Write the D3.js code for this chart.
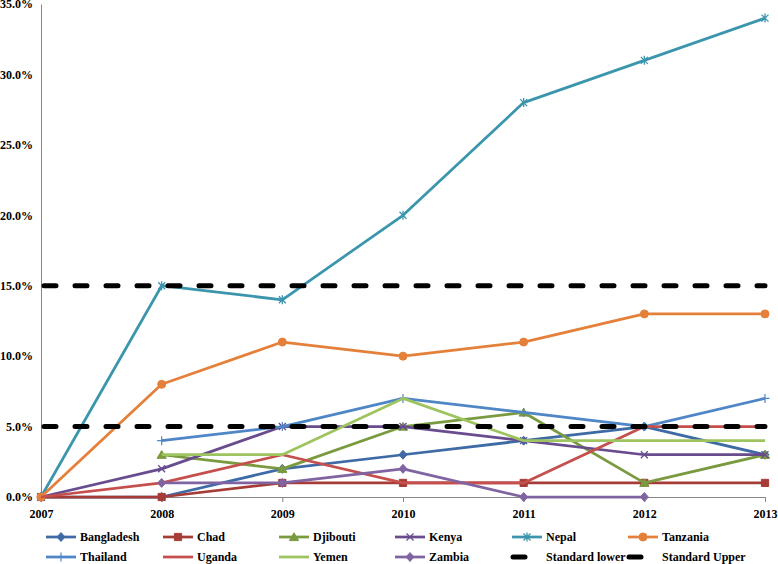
<!DOCTYPE html>
<html>
<head>
<meta charset="utf-8">
<script src="https://cdn.jsdelivr.net/npm/d3@7"></script>
<style>
  body { margin: 0; background: #fff; }
  text { font-family: "Liberation Serif", serif; font-weight: bold; font-size: 12px; fill: #000; }
</style>
</head>
<body>
<svg id="chart"></svg>
<script>
// data (percent)
const years = ["2007", "2008", "2009", "2010", "2011", "2012", "2013"];
const yTicks = [0, 5, 10, 15, 20, 25, 30, 35];

const bangladesh = [0, 0, 2, 3, 4, 5, 3];
const chad = [0, 0, 1, 1, 1, 1, 1];
const djibouti = [null, 3, 2, 5, 6, 1, 3];
const kenya = [0, 2, 5, 5, 4, 3, 3];
const nepal = [0, 15, 14, 20, 28, 31, 34];
const tanzania = [0, 8, 11, 10, 11, 13, 13];
const thailand = [null, 4, 5, 7, 6, 5, 7];
const uganda = [0, 1, 3, 1, 1, 5, 5];
const yemen = [null, 3, 3, 7, 4, 4, 4];
const zambia = [null, 1, 1, 2, 0, 0, null];
const standardLower = [5, 5, 5, 5, 5, 5, 5];
const standardUpper = [15, 15, 15, 15, 15, 15, 15];

const seriesNames = ["Bangladesh", "Chad", "Djibouti", "Kenya", "Nepal", "Tanzania",
  "Thailand", "Uganda", "Yemen", "Zambia", "Standard lower", "Standard Upper"];
const seriesValues = [bangladesh, chad, djibouti, kenya, nepal, tanzania,
  thailand, uganda, yemen, zambia, standardLower, standardUpper];

// look of each series
const colors = ["#3E6AA6", "#A63C38", "#7A9A3F", "#684C8D", "#3B96AD", "#E5803A",
  "#4F86C6", "#C44F4C", "#9DC45F", "#8064A2", "#000", "#000"];
const markers = {
  diamond: "M0,-4.5L4,0L0,4.5L-4,0Z",
  square: "M-3.6,-3.6h7.2v7.2h-7.2Z",
  triangle: "M0,-4.2L4.6,3.6H-4.6Z",
  x: "M-3.5,-3.5L3.5,3.5M-3.5,3.5L3.5,-3.5",
  star: "M-3.5,-3.5L3.5,3.5M-3.5,3.5L3.5,-3.5M0,-4.5V4.5",
  circle: "M-4,0a4,4 0 1,0 8,0a4,4 0 1,0 -8,0Z",
  plus: "M-4.5,0H4.5M0,-4.5V4.5"
};
const markerOf = ["diamond", "square", "triangle", "x", "star", "circle",
  "plus", null, null, "diamond", null, null];

const W = 778, H = 564;
const padLeft = 41, padRight = 765, padTop = 4, padBottom = 497;

const svg = d3.select("#chart").attr("width", W).attr("height", H);

const xScale = d3.scalePoint().domain(years).range([padLeft, padRight]).padding(0);
const yScale = d3.scaleLinear().domain([0, 35]).range([padBottom, padTop]);

// axes
const yAxis = d3.axisLeft(yScale).tickValues(yTicks)
  .tickFormat(d => d.toFixed(1) + "%").tickSize(0).tickPadding(8);
const gy = svg.append("g").attr("transform", "translate(" + padLeft + ",0)").call(yAxis);
gy.select(".domain").attr("stroke", "#868686").attr("stroke-width", 1);
gy.selectAll("text").style("font-family", "Liberation Serif").style("font-weight", "bold").style("font-size", "12px");

const xAxis = d3.axisBottom(xScale).tickSize(5).tickPadding(7);
const gx = svg.append("g").attr("transform", "translate(0," + padBottom + ")").call(xAxis);
gx.select(".domain").attr("stroke", "#868686").attr("stroke-width", 1);
gx.selectAll(".tick line").attr("stroke", "#868686");
gx.selectAll("text").style("font-family", "Liberation Serif").style("font-weight", "bold").style("font-size", "12px");

const line = d3.line()
  .defined(d => d.v !== null)
  .x(d => xScale(d.year))
  .y(d => yScale(d.v));

function styleLine(sel, i) {
  sel.attr("fill", "none").attr("stroke", colors[i]);
  if (i >= 10) {
    sel.attr("stroke-width", 5).attr("stroke-dasharray", "12,19").attr("stroke-linecap", "round");
  } else {
    sel.attr("stroke-width", 2.75).attr("stroke-linejoin", "round");
  }
}

function drawMarker(g, i, x, y) {
  const m = markerOf[i];
  if (!m) return;
  const open = (m === "x" || m === "star" || m === "plus");
  g.append("path")
    .attr("d", markers[m])
    .attr("transform", "translate(" + x + "," + y + ")")
    .attr("fill", open ? "none" : colors[i])
    .attr("stroke", colors[i])
    .attr("stroke-width", m === "plus" ? 1.2 : (open ? 1.3 : 1));
}

const plot = svg.append("g");
seriesValues.forEach((vals, i) => {
  const pts = years.map((y, k) => ({ year: y, v: vals[k] }));
  const g = plot.append("g");
  const p = g.append("path").attr("d", line(pts)).call(styleLine, i);
  if (i >= 10) p.attr("stroke-dashoffset", -3);
  pts.filter(d => d.v !== null).forEach(d => drawMarker(g, i, xScale(d.year), yScale(d.v)));
});

// legend
const legCols = [46, 163, 279, 395, 512, 628];
const legRows = [537, 557];
seriesNames.forEach((name, i) => {
  const cx = legCols[i % 6], cy = legRows[Math.floor(i / 6)];
  const g = svg.append("g");
  if (i >= 10) {
    g.append("line").attr("x1", cx + 1).attr("x2", cx + 30).attr("y1", cy).attr("y2", cy).call(styleLine, i);
  } else {
    g.append("line").attr("x1", cx).attr("x2", cx + 30).attr("y1", cy).attr("y2", cy).call(styleLine, i);
    drawMarker(g, i, cx + 15, cy);
  }
  g.append("text").attr("x", cx + 34).attr("y", cy + 4).text(name);
});
</script>
</body>
</html>
